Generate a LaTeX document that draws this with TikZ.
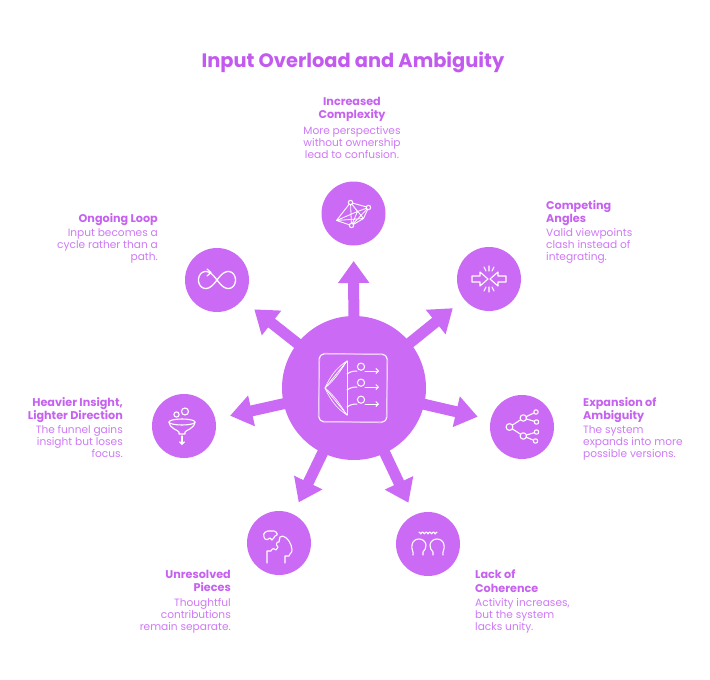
\documentclass[tikz,border=0pt]{standalone}
\usepackage{fontspec}
\setmainfont{Poppins}
\usetikzlibrary{arrows.meta,calc}
\definecolor{vmain}{RGB}{203,107,245}
\definecolor{vtitle}{RGB}{195,90,240}
\definecolor{vhead}{RGB}{198,98,240}
\definecolor{vbody}{RGB}{206,122,246}
\pgfdeclarelayer{bgzero}
\pgfdeclarelayer{bgone}
\pgfsetlayers{bgzero,bgone,main}
\begin{document}
\begin{tikzpicture}[x=1pt,y=-1pt,
  bubble/.style={circle, fill=vmain, minimum size=64pt, inner sep=0pt},
  hub/.style={circle, fill=vmain, minimum size=144pt, inner sep=0pt},
  spoke/.style={vmain, line width=11pt, -{Triangle[width=30pt,length=22pt]}},
  ico/.style={white, line width=1.1pt, line cap=round, line join=round},
  headtxt/.style={font=\fontsize{11.2}{13.2}\selectfont\bfseries, text=vhead, inner sep=0pt},
  bodytxt/.style={font=\fontsize{10.6}{12.3}\selectfont, text=vbody, inner sep=0pt},
  tip/.style={-{Straight Barb[length=2.5pt,width=5pt]}}]
\begin{pgfonlayer}{bgzero}
\fill[white] (0,0) rectangle (710,680);
\end{pgfonlayer}
\path[use as bounding box] (0,0) rectangle (710,680);

\node[font=\fontsize{19.4}{22}\selectfont\bfseries, text=vtitle] (title) at (353,62) {Input Overload and Ambiguity};

% hub and bubbles
\node[hub] (c) at (354,388) {};
\node[bubble] (b1) at (353.5,213.5) {};
\node[bubble] (b2) at (489,279) {};
\node[bubble] (b3) at (522,427) {};
\node[bubble] (b4) at (428,544) {};
\node[bubble] (b5) at (279,543) {};
\node[bubble] (b6) at (184,426) {};
\node[bubble] (b7) at (217,280) {};

% spokes
\begin{pgfonlayer}{bgone}
\foreach \b in {b1,b2,b3,b4,b5,b6,b7}{
  \coordinate (t\b) at ($(c.center)!127pt!(\b.center)$);
  \draw[spoke] (c.center) -- (t\b);
}
\end{pgfonlayer}

% labels
\node[headtxt, anchor=north, align=center] (h1) at (352,97) {Increased\\Complexity};
\node[bodytxt, anchor=north, align=center] (d1) at (352,126) {More perspectives\\without ownership\\lead to confusion.};
\node[headtxt, anchor=north west, align=left] (h2) at (546,200) {Competing\\Angles};
\node[bodytxt, anchor=north west, align=left] (d2) at (546,228) {Valid viewpoints\\clash instead of\\integrating.};
\node[headtxt, anchor=north west, align=left] (h3) at (583,397) {Expansion of\\Ambiguity};
\node[bodytxt, anchor=north west, align=left] (d3) at (583,425) {The system\\expands into more\\possible versions.};
\node[headtxt, anchor=north west, align=left] (h4) at (475,570) {Lack of\\Coherence};
\node[bodytxt, anchor=north west, align=left] (d4) at (475,598) {Activity increases,\\but the system\\lacks unity.};
\node[headtxt, anchor=north east, align=right] (h5) at (231,570) {Unresolved\\Pieces};
\node[bodytxt, anchor=north east, align=right] (d5) at (231,598) {Thoughtful\\contributions\\remain separate.};
\node[headtxt, anchor=north east, align=right] (h6) at (123,397) {Heavier Insight,\\Lighter Direction};
\node[bodytxt, anchor=north east, align=right] (d6) at (123,425) {The funnel gains\\insight but loses\\focus.};
\node[headtxt, anchor=north east, align=right] (h7) at (158,213) {Ongoing Loop};
\node[bodytxt, anchor=north east, align=right] (d7) at (158,228) {Input becomes a\\cycle rather than a\\path.};

% center icon
\begin{scope}[shift={(353,388)}]
  \draw[ico, line width=0.9pt, rounded corners=5pt] (-34,-34) rectangle (34,34);
  \draw[white, line width=0.5pt, rounded corners=5pt, opacity=0.7] (-33,-35) -- (35,-33) -- (33,35) -- (-35,33) -- cycle;
  \draw[ico, line width=0.9pt] (-6,-27) -- (-6,27);
  \draw[ico, line width=0.8pt] (-28,0) -- (-6,-27) (-28,0) -- (-6,27);
  \draw[ico, line width=0.6pt] (-28,0) .. controls (-18,-8) and (-12,-18) .. (-6,-27);
  \draw[ico, line width=0.6pt] (-28,0) .. controls (-22,-14) and (-14,-22) .. (-6,-27);
  \draw[ico, line width=0.6pt] (-28,0) .. controls (-18,8) and (-12,18) .. (-6,27);
  \draw[ico, line width=0.6pt] (-28,0) .. controls (-22,14) and (-14,22) .. (-6,27);
  \foreach \yy in {-17,-1,16}{
    \draw[ico, line width=1pt] (8,\yy-4.3) circle (3.6);
    \draw[ico, line width=1pt] (-6,\yy+3) .. controls (-2,\yy) and (2,\yy) .. (4,\yy);
    \draw[ico, line width=1pt, tip] (12,\yy) -- (26,\yy);
  }
\end{scope}

% top icon: network
\begin{scope}[shift={(b1.center)}]
  \coordinate (A) at (-3,-11); \coordinate (B) at (15,-6); \coordinate (C) at (-17,7);
  \coordinate (D) at (-2,12); \coordinate (E) at (10,5); \coordinate (F) at (4,-2);
  \draw[ico, line width=0.9pt] (A) -- (B) -- (E) -- (D) -- (C) -- cycle;
  \draw[ico, line width=0.8pt] (A) -- (D) (A) -- (E) (C) -- (E) (B) -- (D) (C) -- (F) -- (B) (A) -- (F) -- (D);
  \foreach \p in {A,B,D}{\filldraw[fill=vmain, draw=white, line width=1pt] (\p) circle (2.2);}
\end{scope}

% competing angles
\begin{scope}[shift={(b2.center)}]
  \draw[ico] (-17,-3) -- (-9,-3) -- (-9,-7) -- (-1,0) -- (-9,7) -- (-9,3) -- (-17,3) -- cycle;
  \draw[ico] (17,-3) -- (9,-3) -- (9,-7) -- (1,0) -- (9,7) -- (9,3) -- (17,3) -- cycle;
  \draw[ico] (0,-13) -- (0,-8) (-5,-12) -- (-3,-8) (5,-12) -- (3,-8);
  \draw[ico] (0,13) -- (0,8) (-5,12) -- (-3,8) (5,12) -- (3,8);
\end{scope}

% expansion of ambiguity
\begin{scope}[shift={(b3.center)}]
  \coordinate (R) at (-12.5,0); \coordinate (M1) at (1.3,-9); \coordinate (M2) at (1.3,9);
  \coordinate (L1) at (14,-15); \coordinate (L2) at (14.5,-5); \coordinate (L3) at (14.5,5); \coordinate (L4) at (13.5,14);
  \draw[ico] (R) -- (M1) (R) -- (M2) (M1) -- (L1) (M1) -- (L2) (M2) -- (L3) (M2) -- (L4);
  \filldraw[ico, fill=vmain] (R) circle (3.4) (M1) circle (3.2) (M2) circle (3.2);
  \filldraw[ico, fill=vmain] (L1) circle (2.2) (L2) circle (2.2) (L3) circle (2.2) (L4) circle (2.2);
\end{scope}

% lack of coherence
\begin{scope}[shift={(b4.center)}]
  \draw[ico] (-15,11) .. controls (-14,8) and (-17,5) .. (-16,1) .. controls (-15,-7) and (-3,-7) .. (-2,1) .. controls (-2,4) and (-3,6) .. (-5,8) -- (-5,11);
  \draw[ico] (15,11) .. controls (14,8) and (17,5) .. (16,1) .. controls (15,-7) and (3,-7) .. (2,1) .. controls (2,4) and (3,6) .. (5,8) -- (5,11);
  \draw[ico] plot[domain=-9:9, samples=60, smooth] (\x,{-10-1.8*abs(sin(\x*50))});
\end{scope}

% unresolved pieces
\begin{scope}[shift={(b5.center)}]
  \draw[ico] (-15,-6) .. controls (-17,-10) and (-12,-13) .. (-8,-12) .. controls (-4,-13) and (-1,-10) .. (-2,-8) -- (-4,-7) .. controls (-6,-6) and (-5,-3) .. (-7,-3) -- (-9,-5) .. controls (-11,-3) and (-13,-3) .. (-14,-4) -- cycle;
  \draw[ico] (-12,20) -- (-12,8) -- (-8,8) .. controls (-7,5) and (-4,5) .. (-3,7) -- (-1,4) .. controls (-4,2) and (-2,-2) .. (0,-1) -- (1,-6) .. controls (4,-9) and (10,-4) .. (12,2) .. controls (13,5) and (14,9) .. (11,11) -- (10,13) -- (6,13) -- (6,20);
\end{scope}

% heavier insight
\begin{scope}[shift={(b6.center)}]
  \draw[ico] (-2,-4) ellipse (13 and 3);
  \draw[ico] (-15,-4) .. controls (-14,3) and (-6,4) .. (-5,6) -- (-5,8) -- (1,8) -- (1,6) .. controls (2,4) and (10,3) .. (11,-4);
  \draw[ico, tip] (-2,10) -- (-2,19);
  \draw[ico] (-7.5,-11.5) circle (2.6);
  \draw[ico] (1,-14.5) circle (3.5);
\end{scope}

% ongoing loop
\begin{scope}[shift={(b7.center)}]
  \draw[ico, line width=1.3pt] plot[domain=0:360, samples=90, smooth cycle] ({18.5*cos(\x)/(1+(sin(\x))^2)}, {24*sin(\x)*cos(\x)/(1+(sin(\x))^2)});
  \draw[ico, line width=1.2pt] (-10,-11) -- (-6,-7.5) -- (-10,-4);
\end{scope}
\end{tikzpicture}
\end{document}
